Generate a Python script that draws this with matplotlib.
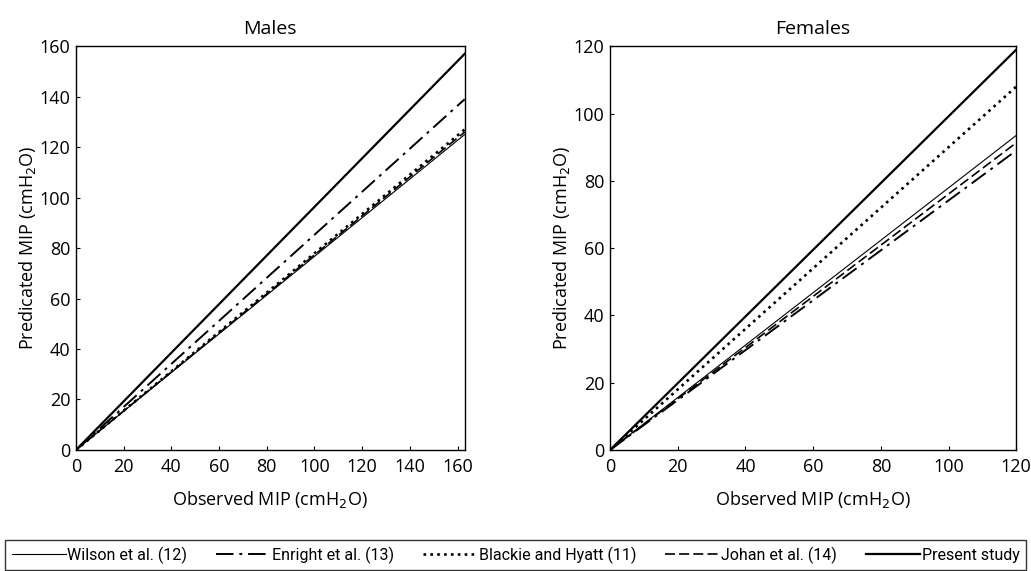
import numpy as np
import matplotlib.pyplot as plt
from matplotlib.lines import Line2D

plt.rcParams['font.family'] = ['Open Sans', 'DejaVu Sans']

studies = ['Wilson et al. (12)', 'Enright et al. (13)', 'Blackie and Hyatt (11)',
           'Johan et al. (14)', 'Present study']

# predicted MIP at the right end of each panel (lines start at origin)
males_xmax = 163
males_end = [125, 139, 127, 126, 157]
females_xmax = 120
females_end = [93.5, 89, 108, 91.3, 119]

males_ticks = [0, 20, 40, 60, 80, 100, 120, 140, 160]
females_ticks = [0, 20, 40, 60, 80, 100, 120]

styles = [
    dict(color='black', lw=0.8, ls='-'),
    dict(color='black', lw=1.4, ls=(0, (9, 3, 1.5, 3))),
    dict(color='black', lw=1.9, ls=(0, (1, 1.6))),
    dict(color='black', lw=1.2, ls=(0, (6, 2.5))),
    dict(color='black', lw=1.6, ls='-'),
]

fig = plt.figure(figsize=(10.31, 5.71), dpi=100)
ax1 = fig.add_axes([0.0737, 0.212, 0.377, 0.707])
ax2 = fig.add_axes([0.5917, 0.212, 0.394, 0.707])


def draw_panel(ax, xmax, ends, ticks, title):
    for yend, st in zip(ends, styles):
        ax.plot([0, xmax], [0, yend], **st)
    ax.set_xlim(0, xmax)
    ax.set_ylim(0, ticks[-1])
    ax.set_xticks(ticks)
    ax.set_yticks(ticks)
    ax.tick_params(direction='in', length=3, width=0.8, labelsize=13, pad=4)
    ax.tick_params(axis='x', pad=6)
    for sp in ax.spines.values():
        sp.set_linewidth(1.0)
    ax.set_title(title, fontsize=14, pad=9)
    ax.set_xlabel('Observed MIP (cmH$_2$O)', fontsize=13, labelpad=9)
    ax.set_ylabel('Predicated MIP (cmH$_2$O)', fontsize=13, labelpad=1)


draw_panel(ax1, males_xmax, males_end, males_ticks, 'Males')
draw_panel(ax2, females_xmax, females_end, females_ticks, 'Females')

handles = [Line2D([], [], **st) for st in styles]
leg = fig.legend(handles, studies, loc='lower center', bbox_to_anchor=(0.5, 0.0),
                 ncol=5, frameon=True, fancybox=False, edgecolor='black',
                 handlelength=3.4, handletextpad=0.1,
                 columnspacing=1.8, borderpad=0.4, borderaxespad=0.05,
                 prop={'family': 'Roboto', 'size': 11.5})
leg.get_frame().set_linewidth(1.0)

fig.savefig('out.png', dpi=100)
